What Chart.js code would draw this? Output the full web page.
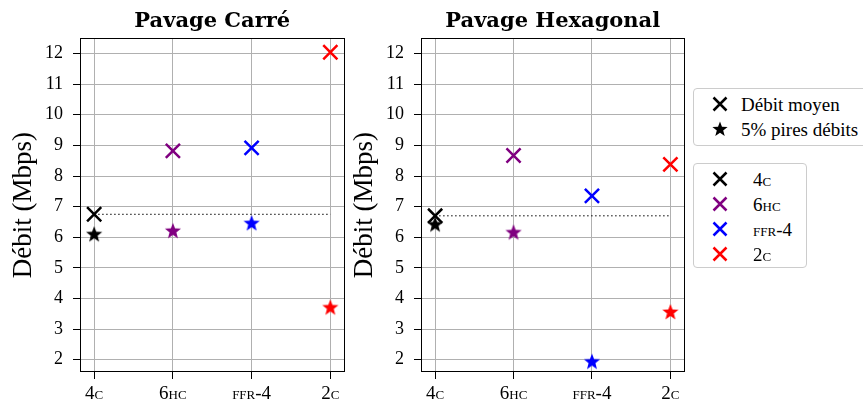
<!DOCTYPE html>
<html>
<head>
<meta charset="utf-8">
<script src="https://cdn.jsdelivr.net/npm/chart.js@4.4.0/dist/chart.umd.min.js"></script>
<style>
  body { margin: 0; width: 863px; height: 405px; overflow: hidden; background: #fff; position: relative; font-family: "Liberation Serif", serif; }
  .plot { position: absolute; top: 0; height: 405px; }
  .legend { position: absolute; border: 1px solid #cccccc; border-radius: 4px; background: #fff; font-size: 19px; color: #000; box-sizing: border-box; }
  .legend .item { position: relative; height: 25px; line-height: 25px; white-space: nowrap; }
  .legend canvas { position: absolute; left: 16px; top: 2px; }
  .legend span { position: absolute; }
  .sc { font-variant: small-caps; }
</style>
</head>
<body>
<div class="plot" style="left:0;width:357px"><canvas id="carre" width="357" height="405"></canvas></div>
<div class="plot" style="left:341px;width:356px"><canvas id="hexa" width="356" height="405"></canvas></div>

<div class="legend" style="left:693px;top:88px;width:180px;height:58px;padding-top:3px">
  <div class="item"><canvas width="20" height="20" data-mark="x" data-color="#000"></canvas><span style="left:47px">Débit moyen</span></div>
  <div class="item"><canvas width="20" height="20" data-mark="star" data-color="#000"></canvas><span style="left:47px">5% pires débits</span></div>
</div>
<div class="legend" id="leg2" style="left:693px;top:163px;width:114px;height:105px;padding-top:3px"></div>

<script>
// données
const categories = ['4c', '6hc', 'ffr-4', '2c'];
const colors = ['#000000', '#800080', '#0000ff', '#ff0000'];
const yTicks = [2, 3, 4, 5, 6, 7, 8, 9, 10, 11, 12];
const carreMoyen = [6.75, 8.82, 8.92, 12.04];
const carrePires = [6.10, 6.21, 6.46, 3.71];
const hexaMoyen = [6.70, 8.67, 7.35, 8.38];
const hexaPires = [6.42, 6.16, 1.94, 3.56];

const serif = '"Liberation Serif", serif';

function drawStar(g, cx, cy, r, color) {
  const ri = r * 0.42;
  g.beginPath();
  for (let i = 0; i < 10; i++) {
    const a = -Math.PI / 2 + i * Math.PI / 5;
    const rr = i % 2 ? ri : r;
    g.lineTo(cx + rr * Math.cos(a), cy + rr * Math.sin(a));
  }
  g.closePath();
  g.fillStyle = color;
  g.fill();
}

function drawX(g, cx, cy, r, color) {
  g.beginPath();
  g.moveTo(cx - r, cy - r); g.lineTo(cx + r, cy + r);
  g.moveTo(cx - r, cy + r); g.lineTo(cx + r, cy - r);
  g.strokeStyle = color;
  g.lineWidth = 2.5;
  g.stroke();
}

function starImage(color) {
  const c = document.createElement('canvas');
  c.width = 18; c.height = 18;
  drawStar(c.getContext('2d'), 9, 9.5, 8.5, color);
  return c;
}

// légende des couleurs
const leg2 = document.getElementById('leg2');
categories.forEach((c, i) => {
  const d = document.createElement('div');
  d.className = 'item';
  d.innerHTML = '<canvas width="20" height="20" data-mark="x" data-color="' + colors[i] + '"></canvas><span class="sc" style="left:59px">' + c + '</span>';
  leg2.appendChild(d);
});
document.querySelectorAll('.legend canvas').forEach(cv => {
  const g = cv.getContext('2d');
  if (cv.dataset.mark === 'x') drawX(g, 10, 10, 6.5, cv.dataset.color);
  else drawStar(g, 10, 10.5, 8, cv.dataset.color);
});

const framePlugin = {
  id: 'frame',
  beforeDatasetsDraw(chart) {
    const a = chart.chartArea;
    const ctx = chart.ctx;
    ctx.save();
    ctx.strokeStyle = '#000';
    ctx.lineWidth = 1;
    ctx.strokeRect(Math.round(a.left) + 0.5, Math.round(a.top) + 0.5, Math.round(a.right - a.left) - 1, Math.round(a.bottom - a.top) - 1);
    ctx.restore();
  }
};

function makeChart(id, title, moyen, pires) {
  return new Chart(document.getElementById(id), {
    type: 'scatter',
    data: {
      datasets: [
        {
          label: 'Débit moyen',
          data: moyen.map((v, i) => ({ x: i, y: v })),
          pointStyle: 'crossRot',
          pointRadius: 10,
          pointBorderWidth: 2.5,
          pointBorderColor: colors,
          pointBackgroundColor: colors,
          order: 1
        },
        {
          label: '5% pires débits',
          data: pires.map((v, i) => ({ x: i, y: v })),
          pointStyle: colors.map(starImage),
          pointRadius: 9,
          order: 2
        },
        {
          type: 'line',
          label: 'ref',
          data: [{ x: 0, y: moyen[0] }, { x: 3, y: moyen[0] }],
          borderColor: '#000',
          borderWidth: 1,
          borderDash: [1.5, 2.5],
          pointRadius: 0,
          order: 3
        }
      ]
    },
    options: {
      responsive: false,
      animation: false,
      events: [],
      layout: { padding: 0 },
      plugins: {
        legend: { display: false },
        tooltip: { enabled: false },
        title: {
          display: true,
          text: title,
          fullSize: false,
          color: '#000',
          font: { family: '"DejaVu Serif", serif', size: 21, weight: 'bold' },
          padding: { top: 9, bottom: 4 }
        }
      },
      scales: {
        x: {
          type: 'linear',
          min: -0.18,
          max: 3.18,
          afterBuildTicks: s => { s.ticks = categories.map((c, i) => ({ value: i })); },
          afterFit: s => { s.height = 33; },
          ticks: {
            callback: v => categories[v],
            color: '#000',
            font: { family: serif, size: 19, weight: 'small-caps' },
            padding: 4,
            maxRotation: 0,
            autoSkip: false
          },
          grid: { color: '#b0b0b0', lineWidth: 1, tickLength: 7, tickColor: '#000' },
          border: { display: false }
        },
        y: {
          min: 1.6,
          max: 12.5,
          afterBuildTicks: s => { s.ticks = yTicks.map(v => ({ value: v })); },
          afterFit: s => { s.width = 80; s.paddingTop = 0; s.paddingBottom = 0; },
          ticks: { color: '#000', font: { family: serif, size: 18 }, padding: 10 },
          grid: { color: '#b0b0b0', lineWidth: 1, tickLength: 7, tickColor: '#000' },
          border: { display: false },
          title: {
            display: true,
            text: 'Débit (Mbps)',
            color: '#000',
            font: { family: serif, size: 27 },
            padding: { top: 8, bottom: 0 }
          }
        }
      }
    },
    plugins: [framePlugin]
  });
}

makeChart('carre', 'Pavage Carré', carreMoyen, carrePires);
makeChart('hexa', 'Pavage Hexagonal', hexaMoyen, hexaPires);
</script>
</body>
</html>
